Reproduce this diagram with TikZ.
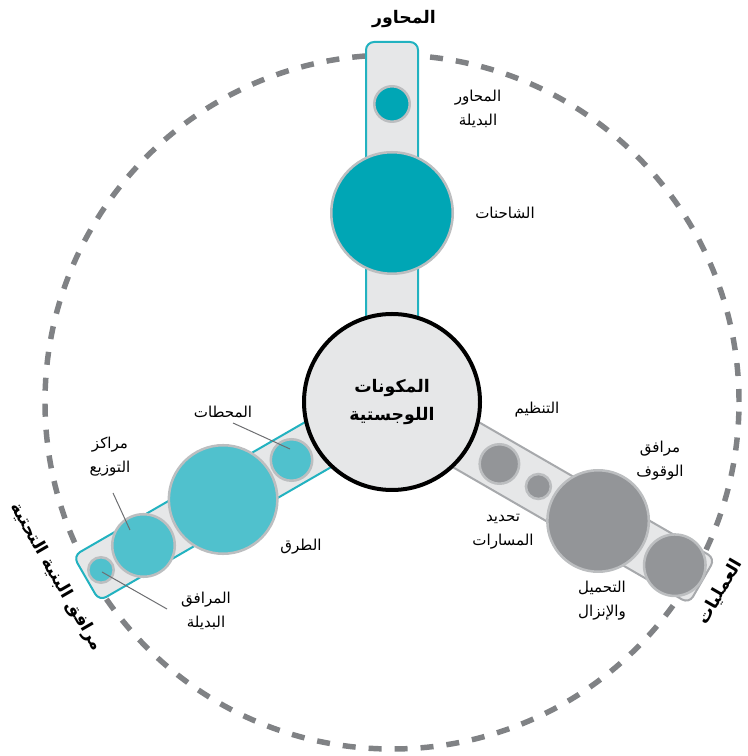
\documentclass[tikz,border=0pt]{standalone}
\usepackage{fontspec}
\newfontfamily\arabicfont[Script=Arabic]{DejaVu Sans}
\TeXXeTstate=1
\usetikzlibrary{calc}
\definecolor{ax_teal}{RGB}{0, 166, 181}
\definecolor{rd_teal}{RGB}{80, 193, 205}
\definecolor{op_gray}{RGB}{147, 149, 152}
\definecolor{ring_gray}{RGB}{188, 190, 192}
\definecolor{bar_fill}{RGB}{230, 231, 232}
\definecolor{bar_teal}{RGB}{34, 178, 192}
\definecolor{bar_gray}{RGB}{167, 169, 172}
\definecolor{dash_gray}{RGB}{128, 130, 133}
\definecolor{lead_gray}{RGB}{109, 110, 113}
\tikzstyle{tbar}=[rectangle,rounded corners=6pt,fill=bar_fill,draw=bar_teal,
  line width=1.5pt,inner sep=0pt,minimum height=39pt]
\tikzstyle{gbar}=[tbar,draw=bar_gray]
\tikzstyle{hub}=[circle,fill=bar_fill,draw=black,line width=3pt,inner sep=0pt,
  minimum size=132pt,font=\arabicfont\bfseries\fontsize{13}{21}\selectfont,align=center]
\tikzstyle{an}=[circle,fill=ax_teal,draw=ring_gray,line width=1.9pt,inner sep=0pt]
\tikzstyle{tn}=[an,fill=rd_teal]
\tikzstyle{on}=[an,fill=op_gray]
\tikzstyle{lbl}=[font=\arabicfont\fontsize{11.3}{18}\selectfont,align=center,inner sep=1pt]
\tikzstyle{ttl}=[font=\arabicfont\bfseries\fontsize{13}{16}\selectfont,inner sep=1pt]
\tikzstyle{lead}=[draw=lead_gray,line width=0.75pt]
\tikzstyle{none}=[]

\begin{document}
\begin{tikzpicture}[x=0.75pt,y=0.75pt]
    \useasboundingbox (0,0) rectangle (747,756);
    \coordinate (0) at (392, 354);
    \draw [draw=dash_gray,line width=4.1pt,dash pattern=on 9.75pt off 9.75pt] (0) circle (347);
    % arms
    \node [style=tbar,minimum width=39pt,minimum height=240pt] (1) at (392, 554) {};
    \node [style=tbar,minimum width=234.75pt,rotate=30] (2) at (221.8, 255.8) {};
    \node [style=gbar,minimum width=238.5pt,rotate=-30] (3) at (564.3, 254.5) {};
    \node [style=hub] (4) at (0) {\beginR المكونات\endR\\\beginR اللوجستية\endR};
    % top arm
    \node [style=an,minimum size=26.6pt] (5) at (392, 652) {};
    \node [style=an,minimum size=91.1pt] (6) at (392, 543) {};
    % left arm
    \node [style=tn,minimum size=31.1pt] (7) at (291.5, 296) {};
    \node [style=tn,minimum size=81.4pt] (8) at (223.1, 256.5) {};
    \node [style=tn,minimum size=46.9pt] (9) at (143.5, 210.5) {};
    \node [style=tn,minimum size=19.1pt] (10) at (101, 186) {};
    % right arm
    \node [style=on,minimum size=29.6pt] (11) at (499.4, 292) {};
    \node [style=on,minimum size=18.7pt] (12) at (538.4, 269.5) {};
    \node [style=on,minimum size=76.1pt] (13) at (598.1, 235) {};
    \node [style=on,minimum size=46.1pt] (14) at (674.8, 190.8) {};
    % labels
    \node [style=ttl] (15) at (404, 737) {\beginR المحاور\endR};
    \node [style=lbl] (16) at (478, 647) {\beginR المحاور\endR\\\beginR البديلة\endR};
    \node [style=lbl] (17) at (505, 543) {\beginR الشاحنات\endR};
    \node [style=lbl] (18) at (223, 344) {\beginR المحطات\endR};
    \node [style=lbl] (19) at (110, 299) {\beginR مراكز\endR\\\beginR التوزيع\endR};
    \node [style=lbl] (20) at (301, 209) {\beginR الطرق\endR};
    \node [style=lbl] (21) at (206, 145) {\beginR المرافق\endR\\\beginR البديلة\endR};
    \node [style=lbl] (22) at (537, 346) {\beginR التنظيم\endR};
    \node [style=lbl] (23) at (660, 295) {\beginR مرافق\endR\\\beginR الوقوف\endR};
    \node [style=lbl] (24) at (503, 224) {\beginR تحديد\endR\\\beginR المسارات\endR};
    \node [style=lbl] (25) at (602, 155) {\beginR التحميل\endR\\\beginR والإنزال\endR};
    \node [style=ttl,rotate=-60] (26) at (56, 179) {\beginR مرافق البنية التحتية\endR};
    \node [style=ttl,rotate=60] (27) at (720, 164) {\beginR العمليات\endR};
    % leaders
    \coordinate (28) at (233, 333);
    \coordinate (29) at (290, 307);
    \coordinate (30) at (113, 263);
    \coordinate (31) at (130, 226);
    \coordinate (32) at (167, 147);
    \coordinate (33) at (102, 184);
    \draw [style=lead] (28) to (29);
    \draw [style=lead] (30) to (31);
    \draw [style=lead] (32) to (33);
\end{tikzpicture}
\end{document}
